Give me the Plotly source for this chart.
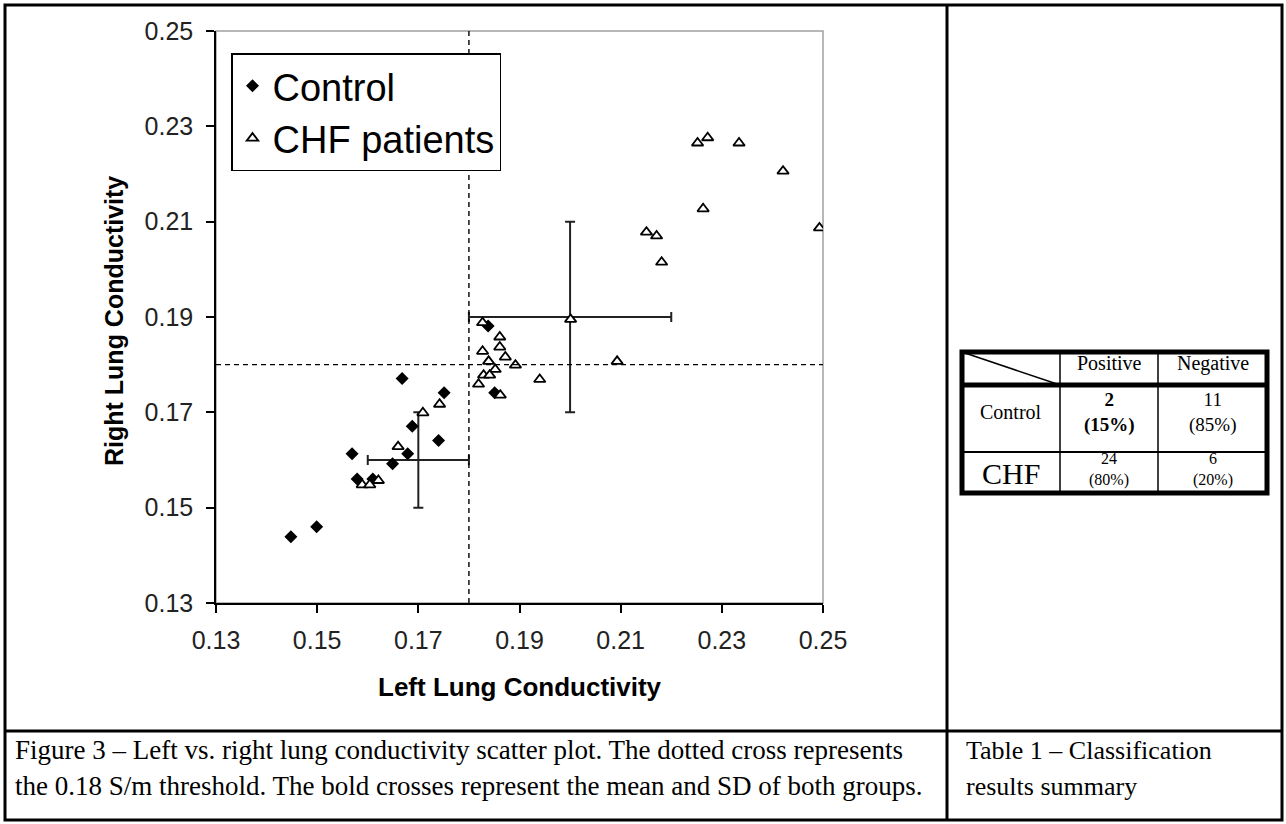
import plotly.graph_objects as go

# ---------------- data ----------------
control_x = [0.1668, 0.1751, 0.1688, 0.1740, 0.1569, 0.1679, 0.1649, 0.1579, 0.1610,
             0.1499, 0.1448, 0.1838, 0.1851]
control_y = [0.1771, 0.1741, 0.1671, 0.1641, 0.1613, 0.1613, 0.1592, 0.1560, 0.1560,
             0.1460, 0.1439, 0.1881, 0.1741]

chf_x = [0.1709, 0.1742, 0.1660, 0.1621, 0.1589, 0.1604,
         0.1827, 0.1861, 0.1861, 0.1827, 0.1872, 0.1839, 0.1892, 0.1852, 0.1829, 0.1841,
         0.1819, 0.1862, 0.1940, 0.2001, 0.2093,
         0.2252, 0.2272, 0.2334, 0.2421, 0.2263, 0.2151, 0.2171, 0.2181, 0.2493]
chf_y = [0.1699, 0.1717, 0.1628, 0.1557, 0.1548, 0.1548,
         0.1888, 0.1858, 0.1837, 0.1828, 0.1816, 0.1807, 0.1799, 0.1790, 0.1778, 0.1778,
         0.1759, 0.1736, 0.1769, 0.1895, 0.1807,
         0.2265, 0.2276, 0.2265, 0.2206, 0.2127, 0.2078, 0.2070, 0.2015, 0.2087]

group_names = ["Control", "CHF patients"]
mean_x = [0.17, 0.20]
mean_y = [0.16, 0.19]
sd_x = [0.01, 0.02]
sd_y = [0.01, 0.02]

threshold = 0.18
axis_ticks = [0.13, 0.15, 0.17, 0.19, 0.21, 0.23, 0.25]

table_cols = ["Positive", "Negative"]
table_rows = ["Control", "CHF"]
table_counts = [[2, 11], [24, 6]]
table_pcts = [["15%", "85%"], ["80%", "20%"]]

caption_fig = ["Figure 3 \u2013 Left vs. right lung conductivity scatter plot. The dotted cross represents",
               "the 0.18 S/m threshold. The bold crosses represent the mean and SD of both groups."]
caption_tab = ["Table 1 \u2013 Classification", "results summary"]

# ---------------- layout geometry ----------------
W, H = 1286, 824
L, R, T, B = 216, 823, 31, 603
PW, PH = R - L, B - T


def px(X):
    return (X - L) / PW


def py(Y):
    return (B - Y) / PH


SANS = "Liberation Sans, Arial, sans-serif"
SERIF = "Liberation Serif, Times New Roman, serif"

fig = go.Figure()

# error-bar crosses (mean +/- SD)
for i in range(len(group_names)):
    fig.add_trace(go.Scatter(
        x=[mean_x[i]], y=[mean_y[i]], mode="markers",
        marker=dict(size=1, color="rgba(0,0,0,0)"),
        error_x=dict(type="data", array=[sd_x[i]], color="#222", thickness=2, width=5),
        error_y=dict(type="data", array=[sd_y[i]], color="#222", thickness=2, width=5),
        showlegend=False, hoverinfo="skip"))

fig.add_trace(go.Scatter(
    x=control_x, y=control_y, mode="markers", name=group_names[0],
    legendgroup="a",
    marker=dict(symbol="diamond", size=10, color="black", line=dict(width=0))))
fig.add_trace(go.Scatter(
    x=chf_x, y=chf_y, mode="markers", name=group_names[1],
    legendgroup="b",
    marker=dict(symbol="triangle-up", size=10, color="white",
                line=dict(width=1.8, color="black"))))


def ann(text, X, Y, size, family, xanchor="center", yanchor="middle", **kw):
    return dict(text=text, xref="paper", yref="paper", x=px(X), y=py(Y),
                xanchor=xanchor, yanchor=yanchor, showarrow=False,
                font=dict(family=family, size=size, color="black"), **kw)


shapes = []
# plot area grey border
shapes.append(dict(type="rect", xref="paper", yref="paper", x0=0, y0=0, x1=1, y1=1,
                   line=dict(color="#a0a0a0", width=1.5), layer="below"))
# threshold cross
DASH = dict(color="black", width=1.4, dash="5px,4px")
shapes.append(dict(type="line", xref="x", yref="y", x0=threshold, x1=threshold,
                   y0=axis_ticks[0], y1=axis_ticks[-1], line=DASH))
shapes.append(dict(type="line", xref="x", yref="y", y0=threshold, y1=threshold,
                   x0=axis_ticks[0], x1=axis_ticks[-1], line=DASH))

# outer document frame
FR = dict(color="black", width=3)
shapes.append(dict(type="rect", xref="paper", yref="paper",
                   x0=px(5), x1=px(1282), y0=py(5), y1=py(820), line=FR))
shapes.append(dict(type="line", xref="paper", yref="paper",
                   x0=px(947), x1=px(947), y0=py(5), y1=py(820), line=FR))
shapes.append(dict(type="line", xref="paper", yref="paper",
                   x0=px(5), x1=px(1282), y0=py(731), y1=py(731), line=FR))

# ---- table ----
tx = [962, 1060, 1158, 1267]
ty = [352, 385, 452, 493]
thin = dict(color="black", width=1.5)
mid = dict(color="black", width=2)
thick = dict(color="black", width=5)
shapes.append(dict(type="rect", xref="paper", yref="paper",
                   x0=px(tx[0]), x1=px(tx[3]), y0=py(ty[0]), y1=py(ty[3]), line=thick))
shapes.append(dict(type="line", xref="paper", yref="paper",
                   x0=px(tx[0]), x1=px(tx[3]), y0=py(ty[1]), y1=py(ty[1]), line=thick))
shapes.append(dict(type="line", xref="paper", yref="paper",
                   x0=px(tx[0]), x1=px(tx[3]), y0=py(ty[2]), y1=py(ty[2]), line=mid))
for cx in tx[1:3]:
    shapes.append(dict(type="line", xref="paper", yref="paper",
                       x0=px(cx), x1=px(cx), y0=py(ty[0]), y1=py(ty[3]), line=thin))
shapes.append(dict(type="line", xref="paper", yref="paper",
                   x0=px(tx[0]), x1=px(tx[1]), y0=py(ty[0]), y1=py(ty[1]), line=thin))

annotations = []
# axis titles
annotations.append(ann("<b>Left Lung Conductivity</b>", (L + R) / 2, 687, 26, SANS))
annotations.append(ann("<b>Right Lung Conductivity</b>", 114, 321, 25, SANS,
                       textangle=-90))

# table text
for j, c in enumerate(table_cols):
    annotations.append(ann(c, (tx[j + 1] + tx[j + 2]) / 2, 363, 20, SERIF))
row_label_sizes = [20, 30]
row_label_y = [412, 473]
num_center_y = [412, 469]
num_sizes = [19, 16]
for i, r in enumerate(table_rows):
    annotations.append(ann(r, (tx[0] + tx[1]) / 2, row_label_y[i], row_label_sizes[i], SERIF))
    for j in range(len(table_cols)):
        t = "%d<br>(%s)" % (table_counts[i][j], table_pcts[i][j])
        if i == 0 and j == 0:
            t = "<b>%s</b>" % t
        cxm = (tx[j + 1] + tx[j + 2]) / 2
        annotations.append(ann(t, cxm, num_center_y[i], num_sizes[i], SERIF))

# captions
for k, line in enumerate(caption_fig):
    annotations.append(ann(line, 13, 750 + 36 * k, 27, SERIF, xanchor="left"))
for k, line in enumerate(caption_tab):
    annotations.append(ann(line, 964, 750 + 36 * k, 26, SERIF, xanchor="left"))

axis_common = dict(range=[axis_ticks[0], axis_ticks[-1]], tickvals=axis_ticks,
                   tickformat=".2f", showgrid=False, zeroline=False,
                   showline=True, linecolor="black", linewidth=1.5,
                   ticks="outside", ticklen=8, tickwidth=1.5, tickcolor="black",
                   tickfont=dict(family=SANS, size=25, color="#222"))

fig.update_layout(
    width=W, height=H, autosize=False,
    margin=dict(l=L, r=W - R, t=T, b=H - B, pad=0),
    paper_bgcolor="white", plot_bgcolor="white",
    xaxis=dict(**axis_common, ticklabelstandoff=6),
    yaxis=dict(**axis_common, ticklabelstandoff=8),
    legend=dict(x=px(231), y=py(112), xanchor="left", yanchor="middle",
                bordercolor="black", borderwidth=1.5, bgcolor="white",
                font=dict(family=SANS, size=38, color="black"),
                tracegroupgap=0, itemsizing="trace"),
    shapes=shapes, annotations=annotations,
)

fig.write_html("out.html", config={"displayModeBar": False},
               post_script="document.body.style.margin='0';document.body.style.overflow='hidden';")
